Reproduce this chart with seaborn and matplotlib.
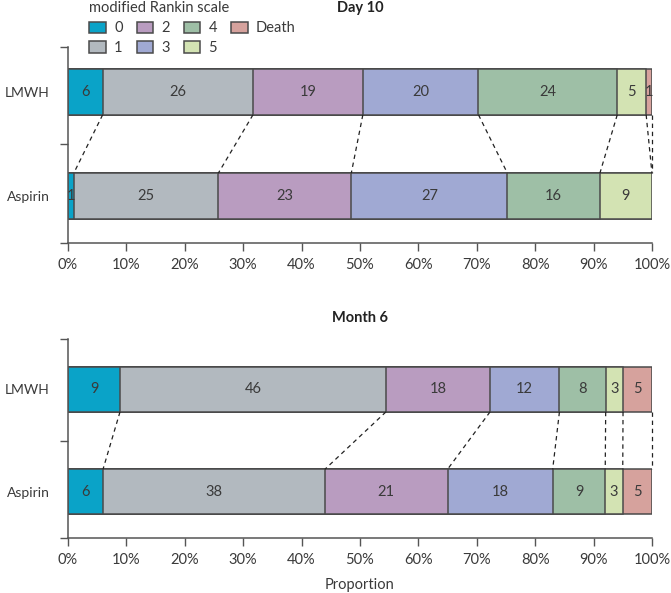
import matplotlib
matplotlib.use("Agg")
import matplotlib.pyplot as plt
import seaborn as sns
import pandas as pd
import numpy as np

# modified Rankin scale categories
categories = ["0", "1", "2", "3", "4", "5", "Death"]
groups = ["LMWH", "Aspirin"]

day10_lmwh = [6, 26, 19, 20, 24, 5, 1]
day10_aspirin = [1, 25, 23, 27, 16, 9, 0]
month6_lmwh = [9, 46, 18, 12, 8, 3, 5]
month6_aspirin = [6, 38, 21, 18, 9, 3, 5]

colors = ["#0aa3c8", "#b2b9bf", "#b99cc0", "#a0a9d3", "#9ebfa6", "#d3e3b3", "#d6a29d"]
edge = "#4a4a4a"
text_col = "#3a3a3a"
fs = 10.5

sns.set_theme(style="white")
plt.rcParams["font.family"] = ["Lato", "DejaVu Sans"]
plt.rcParams["text.color"] = text_col
plt.rcParams["axes.labelcolor"] = text_col
plt.rcParams["xtick.color"] = text_col
plt.rcParams["ytick.color"] = text_col


def make_df(lmwh, aspirin):
    rows = []
    for grp, counts in zip(groups, [lmwh, aspirin]):
        total = sum(counts)
        cum = np.cumsum(counts) / total
        for cat, n, c in zip(categories, counts, cum):
            rows.append({"group": grp, "cat": cat, "n": n,
                         "end": c, "start": c - n / total})
    return pd.DataFrame(rows)


def draw_panel(ax, df, title, ylim_top, title_y):
    # overlaid cumulative bars, widest first
    for cat, col in reversed(list(zip(categories, colors))):
        sub = df[df["cat"] == cat]
        sns.barplot(data=sub, x="end", y="group", order=groups, color=col,
                    edgecolor=edge, linewidth=1.1, width=0.44, saturation=1,
                    orient="h", ax=ax, label=cat)
    for _, r in df.iterrows():
        if r["n"] > 0:
            y = groups.index(r["group"])
            ax.text((r["start"] + r["end"]) / 2, y, str(r["n"]), ha="center",
                    va="center", fontsize=fs, color=text_col)
    # dashed connectors between bars
    top = df[df["group"] == groups[0]]["end"].values
    bot = df[df["group"] == groups[1]]["end"].values
    for a, b in zip(top, bot):
        ax.plot([a, b], [0.22, 0.78], ls=(0, (3.5, 3)), color="#222222", lw=0.9,
                clip_on=False)

    ax.set_xlim(0, 1)
    ax.set_ylim(1.45, ylim_top)
    ax.set_xticks(np.linspace(0, 1, 11))
    ax.set_xticklabels([f"{int(v)}%" for v in np.linspace(0, 100, 11)])
    ax.set_yticks([0, 1])
    ax.set_yticklabels(groups)
    ax.set_yticks([ylim_top, 0.5, 1.45], minor=True)
    ax.tick_params(axis="y", which="major", length=0, pad=13, labelsize=10)
    ax.tick_params(axis="y", which="minor", left=True, length=6, width=1, color="#555555")
    ax.tick_params(axis="x", bottom=True, length=6, width=1, color="#555555", pad=5, labelsize=fs)
    ax.set_ylabel("")
    ax.set_xlabel("")
    sns.despine(ax=ax)
    for s in ["left", "bottom"]:
        ax.spines[s].set_color("#555555")
        ax.spines[s].set_linewidth(1.1)
    ax.set_title(title, fontsize=fs, fontweight="bold", color="#222222",
                 pad=0, y=title_y)


fig = plt.figure(figsize=(6.71, 5.93), dpi=100)
ax1 = fig.add_axes([0.1013, 0.5902, 0.8703, 0.3305])
ax2 = fig.add_axes([0.1013, 0.0927, 0.8703, 0.3356])

draw_panel(ax1, make_df(day10_lmwh, day10_aspirin), "Day 10", -0.43, 1.18)
draw_panel(ax2, make_df(month6_lmwh, month6_aspirin), "Month 6", -0.49, 1.085)
ax2.set_xlabel("Proportion", fontsize=fs, labelpad=8)

# legend
handles, labels = ax1.get_legend_handles_labels()
order = [labels.index(c) for c in categories]
leg = fig.legend([handles[i] for i in order], categories, ncol=4,
                 loc="upper left", bbox_to_anchor=(0.131, 1.0),
                 title="modified Rankin scale", frameon=False, fontsize=fs,
                 title_fontsize=fs, handlelength=1.15, handleheight=0.8,
                 handletextpad=0.55, columnspacing=0.95, labelspacing=0.4,
                 borderpad=0.1, borderaxespad=0, alignment="left")
for h in leg.legend_handles:
    h.set_edgecolor(edge)
for ax in (ax1, ax2):
    if ax.get_legend():
        ax.get_legend().remove()

fig.savefig("out.png", dpi=100)
